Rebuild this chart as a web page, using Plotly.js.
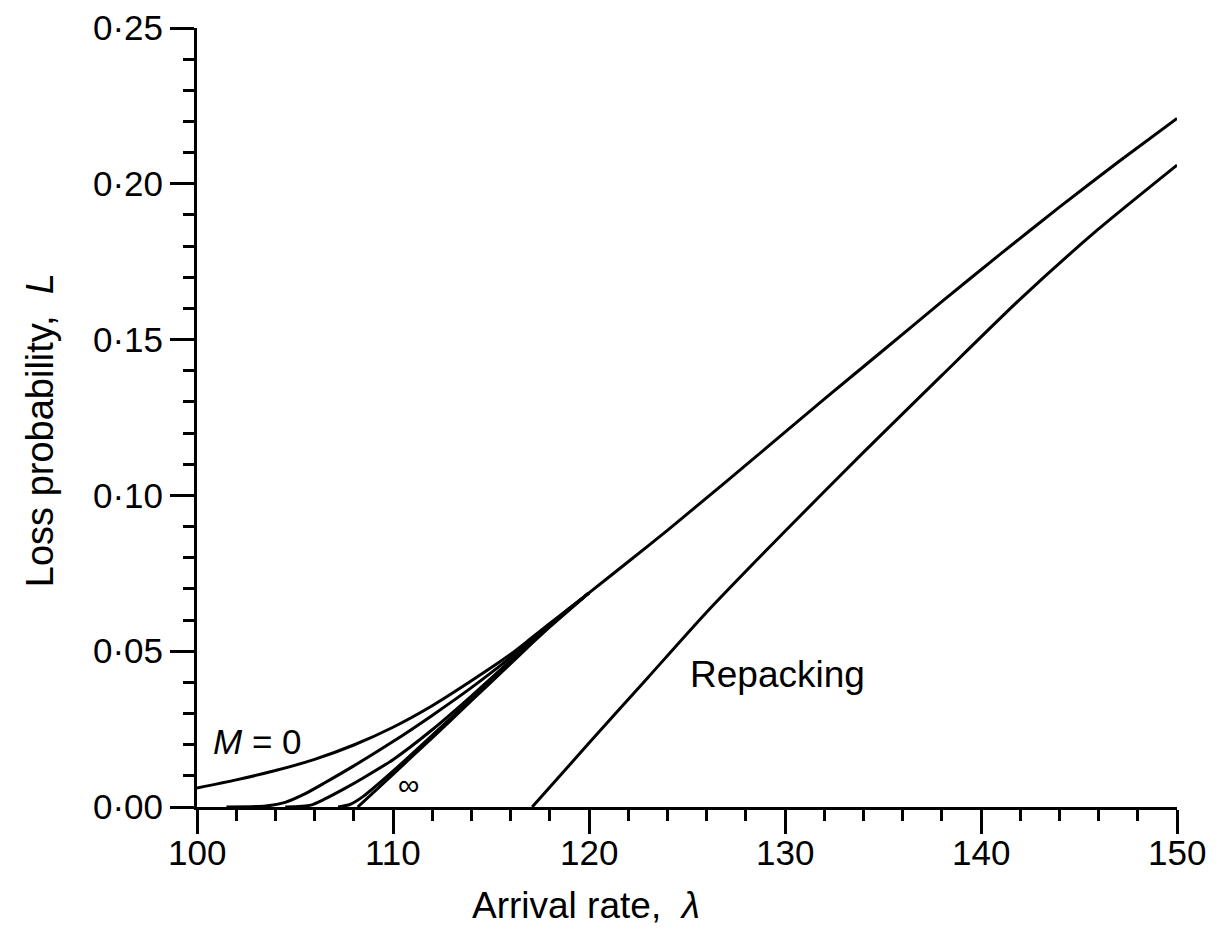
<!DOCTYPE html>
<html>
<head>
<meta charset="utf-8">
<script src="https://cdn.plot.ly/plotly-3.0.1.min.js"></script>
<style>html,body{margin:0;padding:0;background:#fff;}</style>
</head>
<body>
<div id="chart" style="width:1219px;height:933px;"></div>
<script>
// Arrival rate (x) and loss probability (y)
const lambdaM0 = [100, 102, 104, 106, 108, 110, 112, 114, 116, 117, 118, 119, 120, 122, 124, 126, 128, 130, 132, 135, 138, 141, 144, 147, 150];
const lossM0   = [0.0061, 0.0087, 0.0117, 0.0153, 0.0199, 0.0256, 0.0325, 0.0405, 0.0490, 0.0539, 0.0589, 0.0638, 0.0687, 0.0787, 0.0888, 0.0992, 0.1097, 0.1203, 0.1309, 0.1465, 0.1622, 0.1775, 0.1925, 0.2070, 0.2210];

const lambdaA = [101.5, 103.5, 104.5, 105.5, 106.5, 108, 110, 112, 114, 116, 117, 118, 119, 120];
const lossA   = [0, 0.0003, 0.0015, 0.0042, 0.0077, 0.0132, 0.0210, 0.0294, 0.0383, 0.0480, 0.0534, 0.0587, 0.0637, 0.0687];

const lambdaB = [104.5, 105.8, 106.5, 107.5, 108.5, 110, 112, 114, 116, 117, 118, 119, 120];
const lossB   = [0, 0.0006, 0.0025, 0.0058, 0.0094, 0.0152, 0.0248, 0.0356, 0.0470, 0.0527, 0.0583, 0.0635, 0.0687];

const lambdaC = [107.2, 107.8, 108.5, 110, 112, 114, 116, 117, 118, 119, 120];
const lossC   = [0, 0.0008, 0.0035, 0.0115, 0.0230, 0.0347, 0.0464, 0.0523, 0.0580, 0.0634, 0.0687];

const lambdaInf = [108.2, 110, 112, 114, 116, 117, 118, 119, 120];
const lossInf   = [0, 0.0105, 0.0222, 0.0341, 0.0460, 0.0520, 0.0578, 0.0633, 0.0687];

const lambdaRep = [117.1, 120, 123, 126, 130, 134, 138, 142, 146, 150];
const lossRep   = [0, 0.0205, 0.0415, 0.0625, 0.0885, 0.1138, 0.1385, 0.1630, 0.1855, 0.2060];

const yTickVals = [0, 0.05, 0.10, 0.15, 0.20, 0.25];
const yTickText = ['0·00', '0·05', '0·10', '0·15', '0·20', '0·25'];
const xTickVals = [100, 110, 120, 130, 140, 150];
const xTickText = ['100', '110', '120', '130', '140', '150'];

const FONT = 'Liberation Sans, Arial, Helvetica, sans-serif';
const lineStyle = {color: '#000', width: 3, shape: 'spline', smoothing: 0.6};

function tr(x, y) {
  return {x: x, y: y, type: 'scatter', mode: 'lines', line: lineStyle, hoverinfo: 'skip', showlegend: false};
}

const data = [
  tr(lambdaRep, lossRep),
  tr(lambdaInf, lossInf),
  tr(lambdaC, lossC),
  tr(lambdaB, lossB),
  tr(lambdaA, lossA),
  tr(lambdaM0, lossM0)
];

// x tick labels placed as text below the axis ticks
const xLabelAnns = xTickVals.map((v, i) => ({
  x: v, xref: 'x', y: -0.0578, yref: 'paper', text: xTickText[i], showarrow: false,
  xanchor: 'center', yanchor: 'middle', font: {family: FONT, size: 35, color: '#000'}
}));

const layout = {
  width: 1219, height: 933, autosize: false,
  margin: {l: 197, r: 42, t: 28, b: 126, pad: 0},
  paper_bgcolor: '#fff', plot_bgcolor: '#fff',
  font: {family: FONT, color: '#000', size: 34},
  showlegend: false,
  xaxis: {
    range: [100, 150], showgrid: false, zeroline: false,
    showline: true, linecolor: '#000', linewidth: 3,
    ticks: 'outside', ticklen: 24, tickwidth: 3, tickcolor: '#000',
    tickvals: xTickVals, ticktext: xTickText, showticklabels: false,
    minor: {ticks: 'outside', dtick: 2, ticklen: 11, tickwidth: 3, tickcolor: '#000', showgrid: false},
    automargin: false, fixedrange: true
  },
  yaxis: {
    range: [0, 0.25], showgrid: false, zeroline: false,
    showline: true, linecolor: '#000', linewidth: 3,
    ticks: 'outside', ticklen: 24, tickwidth: 3, tickcolor: '#000',
    tickvals: yTickVals, ticktext: yTickText,
    tickfont: {family: FONT, size: 35, color: '#000'},
    minor: {ticks: 'outside', dtick: 0.01, ticklen: 11, tickwidth: 3, tickcolor: '#000', showgrid: false},
    automargin: false, fixedrange: true
  },
  annotations: xLabelAnns.concat([
    {xref: 'paper', yref: 'paper', x: 0.397, y: -0.126, text: 'Arrival rate,  <i>λ</i>', showarrow: false,
     xanchor: 'center', yanchor: 'middle', font: {family: FONT, size: 37, color: '#000'}},
    {xref: 'paper', yref: 'paper', x: -0.160, y: 0.484, text: 'Loss probability,  <i>L</i>', showarrow: false, textangle: -90,
     xanchor: 'center', yanchor: 'middle', font: {family: FONT, size: 38, color: '#000'}},
    {x: 103.1, y: 0.0209, xref: 'x', yref: 'y', text: '<i>M</i> = 0', showarrow: false, font: {family: FONT, size: 35, color: '#000'}},
    {x: 110.8, y: 0.0071, xref: 'x', yref: 'y', text: '∞', showarrow: false, font: {family: FONT, size: 30, color: '#000'}},
    {x: 129.6, y: 0.0425, xref: 'x', yref: 'y', text: 'Repacking', showarrow: false, font: {family: FONT, size: 37, color: '#000'}}
  ])
};

Plotly.newPlot('chart', data, layout, {staticPlot: true, displayModeBar: false});
</script>
</body>
</html>
